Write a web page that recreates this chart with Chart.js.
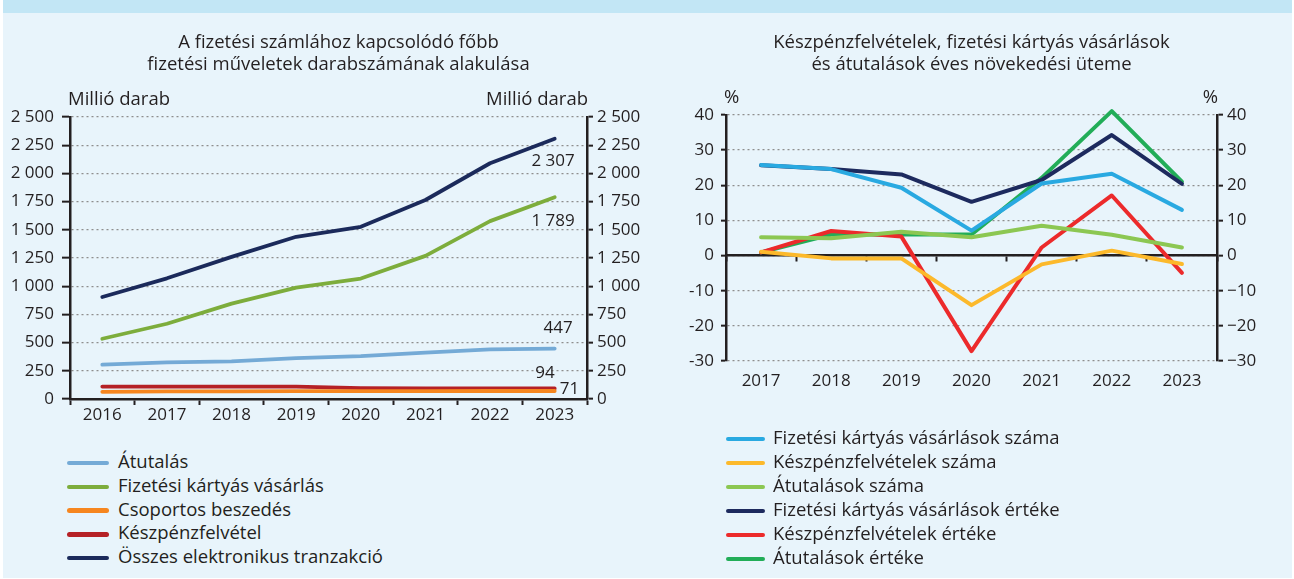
<!DOCTYPE html>
<html>
<head>
<meta charset="utf-8">
<script src="https://cdn.jsdelivr.net/npm/chart.js@4.4.1/dist/chart.umd.min.js"></script>
<style>
  body { margin: 0; width: 1294px; height: 579px; background: #fff; overflow: hidden; font-family: "Open Sans", sans-serif; }
  #panel { position: absolute; left: 3px; top: 0; width: 1289px; height: 578px; background: #e8f4fb; }
  #band { position: absolute; left: 0; top: 0; width: 100%; height: 13px; background: #c2e6f5; }
  canvas { position: absolute; }
  .legend { position: absolute; font-size: 18.5px; color: #231f20; }
  .legend div { white-space: nowrap; }
  .legend span { display: inline-block; height: 4.5px; border-radius: 3px; vertical-align: middle; }
</style>
</head>
<body>
<div id="panel"><div id="band"></div></div>
<canvas id="chart-left" width="655" height="426" style="left:0;top:14px"></canvas>
<canvas id="chart-right" width="639" height="426" style="left:655px;top:14px"></canvas>
<div class="legend" id="legend-left" style="left:67px;top:449px"></div>
<div class="legend" id="legend-right" style="left:726px;top:425px"></div>
<script>
'use strict';

// [ data ] bal: darabszám (millió darab)
var years1 = ['2016', '2017', '2018', '2019', '2020', '2021', '2022', '2023'];
var atutalas = [305, 324, 334, 362, 380, 412, 440, 447];
var kartyasVasarlas = [534, 667, 845, 987, 1068, 1269, 1577, 1789];
var csoportos = [64, 67, 68, 69, 70, 70, 71, 71];
var keszpenzfelvetel = [110, 110, 110, 110, 97, 95, 94, 94];
var osszes = [904, 1070, 1260, 1438, 1527, 1764, 2090, 2307];
var leftTicks = [0, 250, 500, 750, 1000, 1250, 1500, 1750, 2000, 2250, 2500];

// [ data ] jobb: éves növekedési ütem (%)
var years2 = ['2017', '2018', '2019', '2020', '2021', '2022', '2023'];
var kartyaSzama = [25.8, 24.6, 19.3, 7.1, 20.5, 23.3, 13.0];
var keszpenzSzama = [1.1, -0.8, -0.8, -14.1, -2.5, 1.4, -2.4];
var atutalasSzama = [5.2, 4.9, 6.8, 5.2, 8.5, 5.9, 2.3];
var kartyaErteke = [25.7, 24.6, 23.1, 15.3, 21.5, 34.3, 20.4];
var keszpenzErteke = [0.9, 7.0, 5.4, -27.2, 2.3, 17.1, -4.9];
var atutalasErteke = [0.9, 6.0, 6.0, 6.0, 22.1, 41.1, 21.0];
var rightTicks = [-30, -20, -10, 0, 10, 20, 30, 40];

var TEXT = '#231f20';
var GRID = '#8e8e8e';
var TICK_FONT = { family: '"Open Sans"', size: 17 };

function fmt(v) {
    return String(v).replace(/\B(?=(\d{3})+(?!\d))/g, ' ');
}

function line(label, data, color, width) {
    return {
        label: label, data: data, borderColor: color, backgroundColor: color,
        borderWidth: width, pointRadius: 0, tension: 0, fill: false, clip: false,
        borderCapStyle: 'round', borderJoinStyle: 'round'
    };
}

// title + unit labels (+ optional end labels)
function decor(id, title, unit, endLabels) {
    return {
        id: id,
        afterDraw: function(chart) {
            var ctx = chart.ctx, a = chart.chartArea;
            ctx.save();
            ctx.fillStyle = TEXT;
            ctx.textBaseline = 'middle';
            ctx.font = '18.5px "Open Sans"';
            ctx.textAlign = 'center';
            var cx = (a.left + a.right) / 2 + (id === 'leftDecor' ? 10 : 0);
            title.forEach(function(t, i) { ctx.fillText(t, cx, 29 + i * 21.5); });
            ctx.textAlign = 'left';
            ctx.fillText(unit, a.left - 2, a.top - 17);
            ctx.textAlign = 'right';
            ctx.fillText(unit, a.right + 1, a.top - 17);
            if (endLabels) {
                ctx.font = '17px "Open Sans"';
                chart.data.datasets.forEach(function(ds, i) {
                    var meta = chart.getDatasetMeta(i);
                    var pt = meta.data[meta.data.length - 1];
                    var o = endLabels[i];
                    ctx.textAlign = o.align;
                    ctx.fillText(fmt(ds.data[ds.data.length - 1]), pt.x + o.dx, pt.y + o.dy);
                });
            }
            ctx.restore();
        }
    };
}

function yAxis(pos, ticks, fmtFn, onArea, tickLen, pad, width) {
    return {
        type: 'linear', position: pos,
        min: ticks[0], max: ticks[ticks.length - 1],
        afterBuildTicks: function(s) { s.ticks = ticks.map(function(v) { return { value: v }; }); },
        afterFit: function(s) { s.width = width; },
        grid: {
            drawOnChartArea: onArea, color: GRID, lineWidth: 1.3,
            tickLength: tickLen, tickColor: TEXT, tickWidth: 2
        },
        border: { color: TEXT, width: 2.5, dash: [2, 3] },
        ticks: { color: TEXT, font: TICK_FONT, padding: pad, callback: fmtFn }
    };
}

// [ Bal grafikon ] start
var leftChart = new Chart(document.getElementById('chart-left'), {
    type: 'line',
    data: {
        labels: years1,
        datasets: [
            line('Átutalás', atutalas, '#74aad6', 3.8),
            line('Fizetési kártyás vásárlás', kartyasVasarlas, '#7dad3c', 3.8),
            line('Csoportos beszedés', csoportos, '#f6861f', 3.8),
            line('Készpénzfelvétel', keszpenzfelvetel, '#b52126', 3.8),
            line('Összes elektronikus tranzakció', osszes, '#1b2a5b', 3.8)
        ]
    },
    options: {
        responsive: false,
        animation: false,
        layout: { padding: { top: 103, left: 0, right: 0, bottom: 0 } },
        plugins: { legend: { display: false }, tooltip: { enabled: false } },
        scales: {
            x: {
                offset: true,
                afterFit: function(s) { s.height = 41; },
                grid: { offset: true, drawOnChartArea: false, tickLength: 6, tickColor: TEXT, tickWidth: 2, color: TEXT },
                border: { color: TEXT, width: 2.5 },
                ticks: { color: TEXT, font: TICK_FONT, padding: 0 }
            },
            y: yAxis('left', leftTicks, fmt, true, 8, 8, 70),
            y2: yAxis('right', leftTicks, fmt, false, 6, 4, 68)
        }
    },
    plugins: [decor('leftDecor',
        ['A fizetési számlához kapcsolódó főbb', 'fizetési műveletek darabszámának alakulása'],
        'Millió darab',
        [
            { dx: 18, dy: -20, align: 'right' },
            { dx: 20, dy: 24, align: 'right' },
            { dx: 5, dy: -2, align: 'left' },
            { dx: 0, dy: -15, align: 'right' },
            { dx: 20, dy: 22, align: 'right' }
        ])]
});
// [ Bal grafikon ] end

// [ Jobb grafikon ] start
var rightChart = new Chart(document.getElementById('chart-right'), {
    type: 'line',
    data: {
        labels: years2,
        datasets: [
            line('Fizetési kártyás vásárlások száma', kartyaSzama, '#29a9e1', 4),
            line('Készpénzfelvételek száma', keszpenzSzama, '#fcb92b', 4),
            line('Átutalások száma', atutalasSzama, '#8cc752', 4),
            line('Fizetési kártyás vásárlások értéke', kartyaErteke, '#1d2a5e', 4),
            line('Készpénzfelvételek értéke', keszpenzErteke, '#ec2a2b', 4),
            line('Átutalások értéke', atutalasErteke, '#22ad58', 4)
        ]
    },
    options: {
        responsive: false,
        animation: false,
        layout: { padding: { top: 101, left: 0, right: 0, bottom: 0 } },
        plugins: { legend: { display: false }, tooltip: { enabled: false } },
        scales: {
            x: {
                offset: true,
                afterFit: function(s) { s.height = 79; },
                grid: { display: false, drawTicks: false },
                border: { display: false },
                ticks: { color: TEXT, font: TICK_FONT, padding: 10 }
            },
            xZero: {
                type: 'category', axis: 'x', position: { y: 0 }, offset: true,
                grid: { offset: true, drawOnChartArea: false, tickLength: 5, tickColor: TEXT, tickWidth: 2, color: TEXT },
                border: { color: TEXT, width: 2.5 },
                ticks: { display: false }
            },
            y: yAxis('left', rightTicks, function(v) { return String(v); }, true, 5, 7, 71),
            y2: yAxis('right', rightTicks, function(v) { return String(v).replace('-', '\u2212'); }, false, 6, 4, 77)
        }
    },
    plugins: [decor('rightDecor',
        ['Készpénzfelvételek, fizetési kártyás vásárlások', 'és átutalások éves növekedési üteme'],
        '%', null)]
});
// [ Jobb grafikon ] end

// HTML legends built from the chart datasets
function buildLegend(chart, el, lineW, gap, rowH) {
    chart.data.datasets.forEach(function(ds) {
        var row = document.createElement('div');
        row.style.height = rowH + 'px';
        row.style.lineHeight = rowH + 'px';
        var sw = document.createElement('span');
        sw.style.width = lineW + 'px';
        sw.style.marginRight = gap + 'px';
        sw.style.background = ds.borderColor;
        row.appendChild(sw);
        row.appendChild(document.createTextNode(ds.label));
        el.appendChild(row);
    });
}
buildLegend(leftChart, document.getElementById('legend-left'), 42, 9, 23.75);
buildLegend(rightChart, document.getElementById('legend-right'), 39, 8, 24);
</script>
</body>
</html>
